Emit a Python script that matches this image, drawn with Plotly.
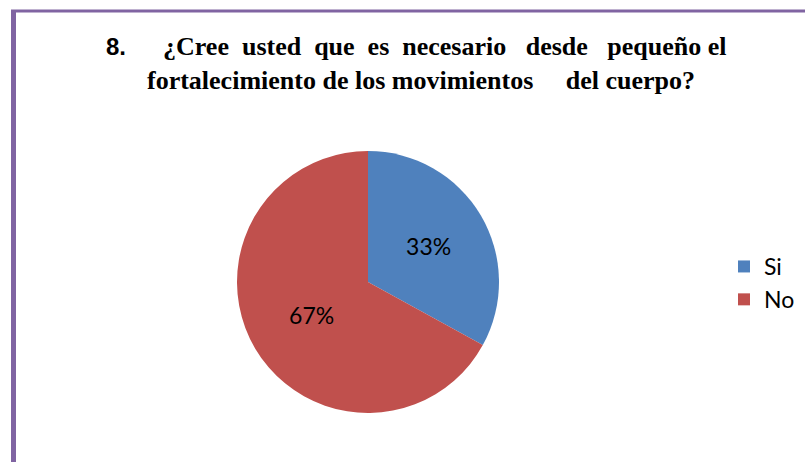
import plotly.graph_objects as go

labels = ["Si", "No"]
values = [33, 67]
colors = ["#4F81BD", "#C0504D"]

W, H = 805, 462
cx, cy, r = 368, 282, 131

fig = go.Figure(go.Pie(
    labels=labels, values=values, sort=False, direction="clockwise", rotation=0,
    marker=dict(colors=colors, line=dict(width=0)),
    textinfo="percent", texttemplate="%{percent:.0%}", textposition="inside",
    insidetextorientation="horizontal",
    textfont=dict(family="Lato, Liberation Sans, sans-serif", size=23, color="#000000"),
    domain=dict(x=[(cx - r) / W, (cx + r) / W], y=[1 - (cy + r) / H, 1 - (cy - r) / H]),
    hoverinfo="label+percent",
))

purple = "#8064A2"
shapes = [
    dict(type="line", xref="paper", yref="paper", x0=13.5 / W, x1=13.5 / W, y0=0, y1=1 - 10 / H,
         line=dict(color=purple, width=5)),
    dict(type="line", xref="paper", yref="paper", x0=11 / W, x1=1, y0=1 - 11 / H, y1=1 - 11 / H,
         line=dict(color=purple, width=3)),
]

serif = "Liberation Serif, Times New Roman, serif"
annotations = [
    dict(text="<b>8.</b>", x=104 / W, y=1 - 47 / H, xref="paper", yref="paper", xanchor="left",
         yanchor="middle", showarrow=False,
         font=dict(family="Liberation Sans, Arial, sans-serif", size=24, color="#000")),
    dict(text="<b>¿Cree&nbsp; usted&nbsp; que&nbsp; es&nbsp; necesario&nbsp;&nbsp; desde&nbsp;&nbsp; pequeño el</b>",
         x=161 / W, y=1 - 47 / H, xref="paper", yref="paper", xanchor="left",
         yanchor="middle", showarrow=False, font=dict(family=serif, size=26, color="#000")),
    dict(text="<b>fortalecimiento de los movimientos&nbsp;&nbsp;&nbsp;&nbsp; del cuerpo?</b>",
         x=145 / W, y=1 - 80 / H, xref="paper", yref="paper", xanchor="left",
         yanchor="middle", showarrow=False, font=dict(family=serif, size=26, color="#000")),
]

fig.update_layout(
    width=W, height=H, margin=dict(l=0, r=0, t=0, b=0),
    paper_bgcolor="white", plot_bgcolor="white",
    shapes=shapes, annotations=annotations,
    showlegend=True,
    legend=dict(x=724 / W, y=1 - 283 / H, xanchor="left", yanchor="middle",
                font=dict(family="Lato, Liberation Sans, sans-serif", size=23, color="#000"),
                itemwidth=30, tracegroupgap=0, bgcolor="rgba(0,0,0,0)"),
)

fig.write_html("out.html", config={"displayModeBar": False},
               post_script="document.body.style.margin='0';")
